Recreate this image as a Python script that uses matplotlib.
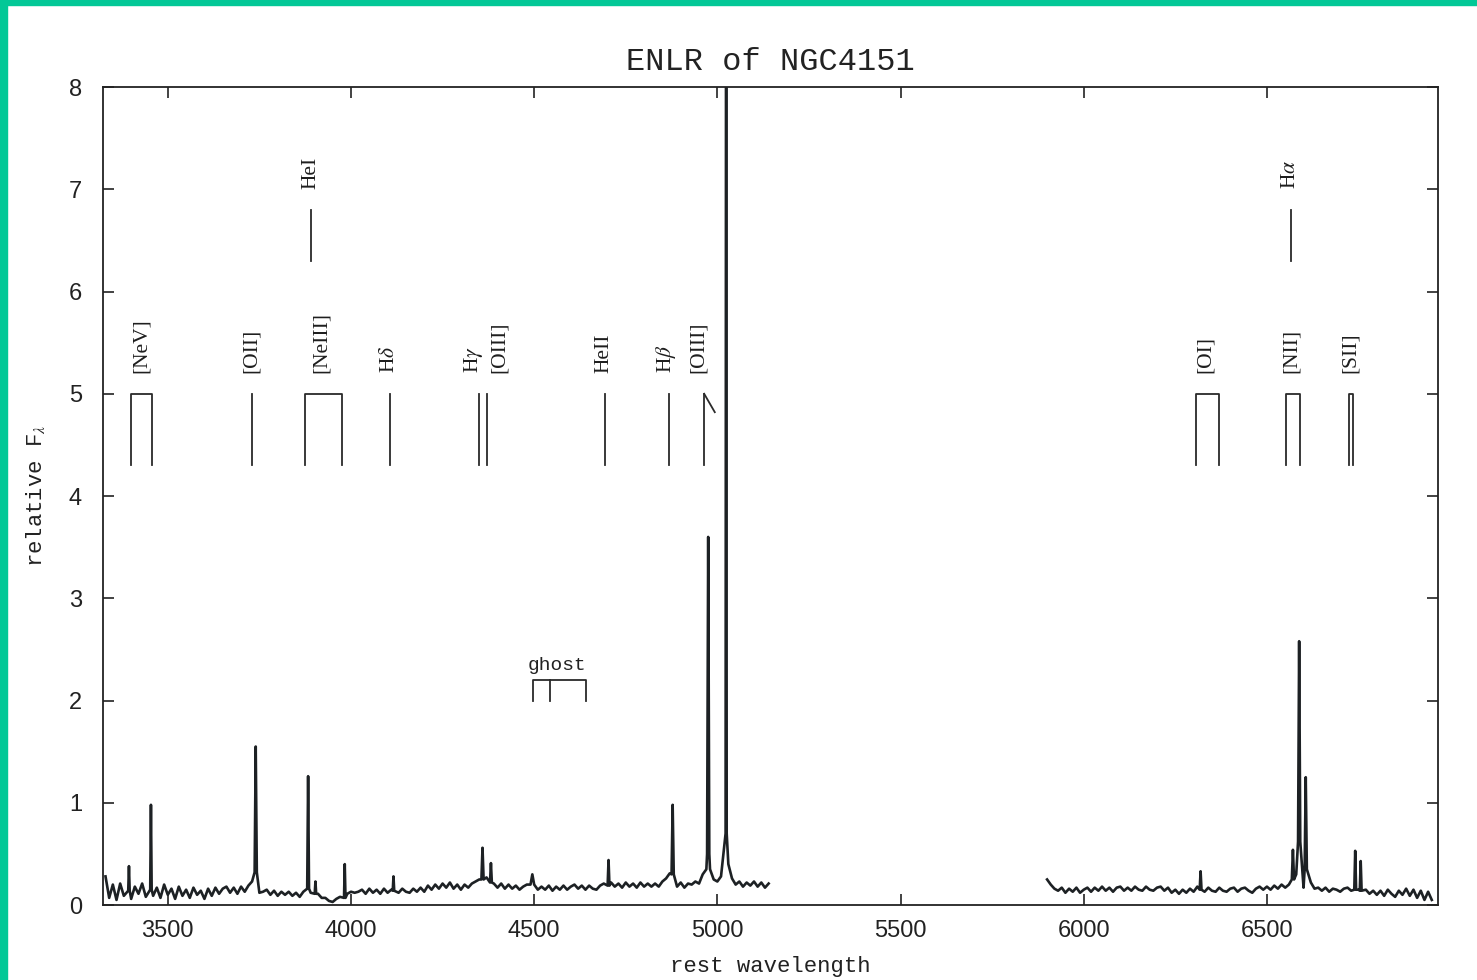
import matplotlib
matplotlib.use("Agg")
import matplotlib.pyplot as plt
import numpy as np
from matplotlib.patches import Rectangle

# spectrum, blue part: continuum sampled every 10 A from 3330 to 5140
blue_wave = np.arange(3330, 5141, 10)
blue_flux = [
    0.28, 0.07, 0.20, 0.05, 0.21, 0.09, 0.23, 0.06, 0.18, 0.11,
    0.21, 0.08, 0.19, 0.09, 0.17, 0.07, 0.20, 0.10, 0.16, 0.06,
    0.18, 0.09, 0.15, 0.07, 0.17, 0.10, 0.14, 0.06, 0.16, 0.09,
    0.17, 0.11, 0.16, 0.18, 0.12, 0.17, 0.11, 0.18, 0.13, 0.19,
    0.23, 0.15, 0.12, 0.13, 0.15, 0.10, 0.14, 0.09, 0.13, 0.10,
    0.13, 0.09, 0.12, 0.08, 0.13, 0.09, 0.12, 0.08, 0.11, 0.07,
    0.07, 0.04, 0.03, 0.06, 0.08, 0.05, 0.11, 0.13, 0.12, 0.13,
    0.15, 0.11, 0.16, 0.12, 0.15, 0.11, 0.16, 0.12, 0.15, 0.13,
    0.12, 0.16, 0.13, 0.12, 0.16, 0.13, 0.17, 0.13, 0.19, 0.15,
    0.20, 0.16, 0.21, 0.17, 0.22, 0.16, 0.20, 0.15, 0.20, 0.17,
    0.21, 0.23, 0.25, 0.23, 0.27, 0.21, 0.21, 0.17, 0.21, 0.16,
    0.20, 0.16, 0.19, 0.15, 0.18, 0.20, 0.22, 0.18, 0.15, 0.18,
    0.15, 0.19, 0.14, 0.18, 0.15, 0.19, 0.15, 0.18, 0.20, 0.16,
    0.19, 0.15, 0.19, 0.16, 0.15, 0.19, 0.21, 0.18, 0.22, 0.18,
    0.21, 0.17, 0.22, 0.18, 0.21, 0.17, 0.22, 0.18, 0.21, 0.18,
    0.21, 0.18, 0.23, 0.26, 0.31, 0.22, 0.18, 0.22, 0.17, 0.21,
    0.20, 0.23, 0.21, 0.30, 0.35, 0.35, 0.25, 0.23, 0.28, 0.40,
    0.40, 0.26, 0.20, 0.23, 0.18, 0.22, 0.19, 0.23, 0.18, 0.22, 0.17, 0.21,
]

# spectrum, red part: continuum sampled every 10 A from 5900 to 6950
red_wave = np.arange(5900, 6951, 10)
red_flux = [
    0.25, 0.20, 0.16, 0.14, 0.17, 0.12, 0.16, 0.13, 0.17, 0.12,
    0.15, 0.17, 0.13, 0.17, 0.14, 0.18, 0.14, 0.17, 0.13, 0.17,
    0.18, 0.14, 0.17, 0.14, 0.18, 0.15, 0.14, 0.18, 0.15, 0.14,
    0.17, 0.18, 0.14, 0.17, 0.12, 0.15, 0.11, 0.15, 0.12, 0.16,
    0.13, 0.18, 0.14, 0.13, 0.17, 0.14, 0.13, 0.17, 0.14, 0.13,
    0.16, 0.17, 0.13, 0.16, 0.17, 0.14, 0.12, 0.16, 0.18, 0.15,
    0.18, 0.15, 0.19, 0.16, 0.20, 0.17, 0.20, 0.28, 0.30, 0.40,
    0.17, 0.33, 0.22, 0.16, 0.17, 0.14, 0.17, 0.13, 0.16, 0.15,
    0.13, 0.16, 0.17, 0.14, 0.18, 0.15, 0.12, 0.15, 0.11, 0.14,
    0.10, 0.14, 0.09, 0.15, 0.11, 0.08, 0.14, 0.10, 0.16, 0.09,
    0.15, 0.07, 0.14, 0.05, 0.13, 0.05,
]

# emission lines: observed wavelength, peak, half width, flux at the foot
line_wave = [3394, 3454, 3740, 3883, 3903, 3983, 4116, 4359, 4382, 4495,
             4703, 4878, 4975, 5024,
             6319, 6571, 6588, 6606, 6741, 6756]
line_peak = [0.38, 0.98, 1.55, 1.26, 0.23, 0.40, 0.28, 0.56, 0.41, 0.30,
             0.44, 0.98, 3.60, 11.0,
             0.33, 0.54, 2.58, 1.25, 0.53, 0.43]
line_hw = [2, 2, 3, 2.5, 2, 2, 2, 3, 2.5, 5,
           2.5, 3, 3, 1.5,
           2.5, 3, 3, 3, 2.5, 2.5]
line_foot = [0.14, 0.15, 0.32, 0.16, 0.11, 0.07, 0.14, 0.25, 0.22, 0.20,
             0.19, 0.30, 0.50, 0.70,
             0.15, 0.25, 0.62, 0.35, 0.15, 0.14]

# line identification marks
bracket_lo = [3399, 3874, 6306, 6553, 6724]
bracket_hi = [3458, 3975, 6369, 6590, 6735]
single_wave = [3731, 4106, 4349, 4372, 4692, 4867, 4964]
tall_wave = [3890, 6565]

label_text = ["[NeV]", "[OII]", "[NeIII]", r"H$\delta$", r"H$\gamma$", "[OIII]",
              "HeII", r"H$\beta$", "[OIII]", "[OI]", "[NII]", "[SII]"]
label_wave = [3429, 3729, 3920, 4106, 4335, 4406, 4690, 4860, 4947, 6333, 6568, 6729]
tall_text = ["HeI", r"H$\alpha$"]

ghost_legs = [4497, 4543, 4641]


def build(wave, flux, lo, hi):
    w = list(wave)
    f = list(flux)
    for lw, lp, hw, ft in zip(line_wave, line_peak, line_hw, line_foot):
        if lw < lo or lw > hi:
            continue
        keep = [i for i in range(len(w)) if abs(w[i] - lw) > max(hw, 4)]
        w = [w[i] for i in keep] + [lw - hw, lw, lw + hw]
        f = [f[i] for i in keep] + [ft, lp, ft]
    order = np.argsort(w)
    return np.array(w)[order], np.array(f)[order]


plt.rcParams['mathtext.fontset'] = 'stix'

fig = plt.figure(figsize=(14.77, 9.8), dpi=100)
ax = fig.add_axes([0.0697, 0.0765, 0.9039, 0.8347])

spec_col = '#1d2124'
for wv, fl, lo, hi in [(blue_wave, blue_flux, 3300, 5200), (red_wave, red_flux, 5800, 7000)]:
    x, y = build(wv, fl, lo, hi)
    ax.plot(x, y, color=spec_col, lw=1.9)

mk = dict(color='#2a2a2a', lw=1.3)
for lo, hi in zip(bracket_lo, bracket_hi):
    ax.plot([lo, lo, hi, hi], [4.3, 5.0, 5.0, 4.3], **mk)
for w in single_wave:
    ax.plot([w, w], [4.3, 5.0], **mk)
ax.plot([4964, 4993], [5.0, 4.82], **mk)
for w in tall_wave:
    ax.plot([w, w], [6.3, 6.8], **mk)

lab = dict(rotation=90, ha='center', va='bottom', fontsize=15.5,
           family='Liberation Serif', color='#1e1e1e')
for t, w in zip(label_text, label_wave):
    ax.text(w, 5.2, t, **lab)
for t, w in zip(tall_text, tall_wave):
    ax.text(w, 7.0, t, **lab)

# ghost bracket
ax.plot([ghost_legs[0], ghost_legs[0], ghost_legs[-1], ghost_legs[-1]],
        [2.0, 2.2, 2.2, 2.0], **mk)
ax.plot([ghost_legs[1], ghost_legs[1]], [2.0, 2.2], **mk)
ax.text(4563, 2.26, "ghost", ha='center', va='bottom', fontsize=14,
        family='Liberation Mono', color='#222222')

ax.set_xlim(3323, 6967)
ax.set_ylim(0, 8)
ax.set_xticks([3500, 4000, 4500, 5000, 5500, 6000, 6500])
ax.set_yticks(range(0, 9))
ax.tick_params(direction='in', length=8, width=1.2, top=True, right=True,
               labelsize=17, colors='#222222')
ax.tick_params(axis='x', pad=11)
ax.tick_params(axis='y', pad=15)
for lbl in ax.get_xticklabels() + ax.get_yticklabels():
    lbl.set_family('Liberation Sans')
for s in ax.spines.values():
    s.set_linewidth(1.3)
    s.set_color('#222222')

ax.set_title("ENLR of NGC4151", family='Liberation Mono', fontsize=23,
             pad=12, color='#222222')
ax.set_xlabel("rest wavelength", family='Liberation Mono', fontsize=16,
              labelpad=10, color='#222222')
ax.set_ylabel(r"relative F$_{\lambda}$", family='Liberation Mono', fontsize=16,
              labelpad=16, color='#222222')

# green frame of the screenshot
fig.patches.append(Rectangle((0, 0), 7 / 1477, 1, transform=fig.transFigure,
                             color='#02c897', zorder=0))
fig.patches.append(Rectangle((0, 1 - 5 / 980), 1, 5 / 980, transform=fig.transFigure,
                             color='#02c897', zorder=0))

fig.savefig("out.png", dpi=100)
